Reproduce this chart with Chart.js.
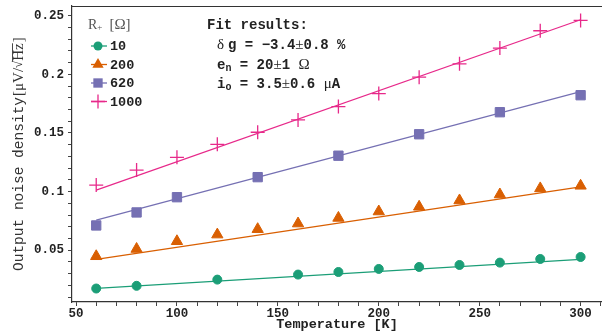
<!DOCTYPE html>
<html>
<head>
<meta charset="utf-8">
<script src="https://cdn.jsdelivr.net/npm/chart.js@4.4.1/dist/chart.umd.min.js"></script>
<style>
  html, body { margin: 0; padding: 0; background: #fff; }
  #wrap { width: 602px; height: 333px; position: relative; }
</style>
</head>
<body>
<div id="wrap"><canvas id="chart"></canvas></div>
<script>
// series data (T in K, noise in uV/sqrt(Hz))
const temps10 = [60, 80, 120, 160, 180, 200, 220, 240, 260, 280, 300];
const noise10 = [0.0173, 0.0196, 0.0249, 0.0292, 0.0314, 0.0340, 0.0357, 0.0374, 0.0394, 0.0425, 0.0442];

const temps200 = [60, 80, 100, 120, 140, 160, 180, 200, 220, 240, 260, 280, 300];
const noise200 = [0.0448, 0.0510, 0.0576, 0.0633, 0.0679, 0.0727, 0.0775, 0.0830, 0.0870, 0.0924, 0.0975, 0.1027, 0.1049];

const temps620 = [60, 80, 100, 140, 180, 220, 260, 300];
const noise620 = [0.0711, 0.0822, 0.0952, 0.1123, 0.1306, 0.1489, 0.1677, 0.1822];

const temps1000 = [60, 80, 100, 120, 140, 160, 180, 200, 220, 240, 260, 280, 300];
const noise1000 = [0.1055, 0.1183, 0.1292, 0.1403, 0.1506, 0.1611, 0.1725, 0.1836, 0.1976, 0.2090, 0.2224, 0.2372, 0.2460];

// fitted lines, end points at T = 60 and 300
const fitT = [60, 300];
const fit10 = [0.0174, 0.0421];
const fit200 = [0.0422, 0.1040];
const fit620 = [0.0756, 0.1853];
const fit1000 = [0.1012, 0.2466];

const seriesNames = ["10", "200", "620", "1000"];
const colors = ["#1b9e77", "#d95f02", "#7570b3", "#e7298a"];

const xTicks = [50, 60, 70, 80, 90, 100, 110, 120, 130, 140, 150, 160, 170, 180, 190, 200, 210, 220, 230, 240, 250, 260, 270, 280, 290, 300, 310];
const yTicks = [];
for (let i = 1; i <= 25; i++) yTicks.push(i / 100);

const MONO = '"Liberation Mono", "Courier New", monospace';
const SERIF = '"Liberation Serif", "DejaVu Serif", serif';

const pts = (xs, ys) => xs.map((x, i) => ({ x: x, y: ys[i] }));

const markerDef = [
  { style: "circle", r: 4.5, w: 1 },
  { style: "triangle", r: 6.5, w: 1 },
  { style: "rect", r: 6.6, w: 1 },
  { style: "cross", r: 7, w: 1.3 }
];

const pointSets = [
  pts(temps10, noise10),
  pts(temps200, noise200),
  pts(temps620, noise620),
  pts(temps1000, noise1000)
];
const fitSets = [fit10, fit200, fit620, fit1000].map(f => pts(fitT, f));

const datasets = [];
fitSets.forEach((d, i) => {
  datasets.push({
    data: d,
    showLine: true,
    borderColor: colors[i],
    borderWidth: 1.2,
    pointRadius: 0,
    order: 2
  });
});
pointSets.forEach((d, i) => {
  datasets.push({
    data: d,
    showLine: false,
    pointStyle: markerDef[i].style,
    pointRadius: markerDef[i].r,
    pointBorderWidth: markerDef[i].w,
    backgroundColor: colors[i],
    borderColor: colors[i],
    order: 1
  });
});

// draw a row of text pieces with different fonts
function drawRuns(ctx, x, y, runs) {
  runs.forEach(r => {
    ctx.font = r.f;
    ctx.fillText(r.t, x, y + (r.dy || 0));
    x += ctx.measureText(r.t).width + (r.gap || 0);
  });
  return x;
}

// legend markers, same shapes as chart.js uses
function drawMarker(ctx, i, x, y) {
  const m = markerDef[i];
  ctx.save();
  ctx.fillStyle = colors[i];
  ctx.strokeStyle = colors[i];
  ctx.lineWidth = m.w;
  ctx.beginPath();
  if (m.style === "circle") {
    ctx.arc(x, y, m.r, 0, Math.PI * 2);
    ctx.fill();
  } else if (m.style === "triangle") {
    const r = m.r;
    ctx.moveTo(x, y - r);
    ctx.lineTo(x + r * 0.866, y + r * 0.5);
    ctx.lineTo(x - r * 0.866, y + r * 0.5);
    ctx.closePath();
    ctx.fill();
  } else if (m.style === "rect") {
    const s = m.r * Math.SQRT1_2;
    ctx.rect(x - s, y - s, s * 2, s * 2);
    ctx.fill();
  } else {
    ctx.moveTo(x - m.r, y);
    ctx.lineTo(x + m.r, y);
    ctx.moveTo(x, y - m.r);
    ctx.lineTo(x, y + m.r);
    ctx.stroke();
  }
  ctx.restore();
}

const decorPlugin = {
  id: "decor",
  afterDraw(chart) {
    const ctx = chart.ctx;
    const a = chart.chartArea;
    ctx.save();

    // top frame line
    ctx.strokeStyle = "#333";
    ctx.lineWidth = 1.2;
    ctx.beginPath();
    ctx.moveTo(a.left, a.top + 0.5);
    ctx.lineTo(a.right, a.top + 0.5);
    ctx.stroke();

    ctx.fillStyle = "#222";
    ctx.textBaseline = "middle";

    // x axis title
    ctx.textAlign = "center";
    ctx.font = "bold 13.5px " + MONO;
    ctx.fillText("Temperature [K]", (a.left + a.right) / 2, 325);

    // y axis title (rotated, mixed fonts)
    ctx.textAlign = "left";
    ctx.save();
    ctx.translate(19, 271);
    ctx.rotate(-Math.PI / 2);
    ctx.fillStyle = "#333";
    let x = drawRuns(ctx, 0, 0, [
      { t: "Output noise density", f: "14.5px " + MONO, gap: 1 },
      { t: "[\u03bcV/", f: "15px " + SERIF },
      { t: "\u221a", f: "13px " + SERIF }
    ]);
    ctx.font = "15px " + SERIF;
    const hzW = ctx.measureText("Hz").width;
    ctx.fillText("Hz", x, 0);
    ctx.lineWidth = 0.9;
    ctx.strokeStyle = "#333";
    ctx.beginPath();
    ctx.moveTo(x - 1, -6.5);
    ctx.lineTo(x + hzW, -6.5);
    ctx.stroke();
    ctx.fillText("]", x + hzW + 1, 0);
    ctx.restore();

    // legend
    ctx.fillStyle = "#555";
    drawRuns(ctx, 88, 25, [
      { t: "R", f: "14px " + SERIF },
      { t: "+", f: "9px " + SERIF, dy: 3, gap: 7 },
      { t: "[\u03a9]", f: "15px " + SERIF }
    ]);
    const rows = [46, 64.5, 83, 101.5];
    rows.forEach((y, i) => {
      ctx.strokeStyle = colors[i];
      ctx.lineWidth = 1.3;
      ctx.beginPath();
      ctx.moveTo(91, y);
      ctx.lineTo(107, y);
      ctx.stroke();
      drawMarker(ctx, i, 98, y);
      ctx.fillStyle = "#222";
      ctx.font = "bold 13.5px " + MONO;
      ctx.fillText(seriesNames[i], 110, y + 1);
    });

    // fit results text
    const B = "bold 14px " + MONO;
    const S = "15px " + SERIF;
    const SUB = "bold 10px " + MONO;
    ctx.fillStyle = "#222";
    ctx.font = B;
    ctx.fillText("Fit results:", 207, 25);
    drawRuns(ctx, 217, 45.5, [
      { t: "\u03b4", f: S, gap: 4 },
      { t: "g = \u22123.4", f: B },
      { t: "\u00b1", f: S },
      { t: "0.8 %", f: B }
    ]);
    drawRuns(ctx, 217, 65, [
      { t: "e", f: B },
      { t: "n", f: SUB, dy: 3 },
      { t: " = 20", f: B },
      { t: "\u00b1", f: S },
      { t: "1 ", f: B },
      { t: "\u03a9", f: S }
    ]);
    drawRuns(ctx, 217, 84.5, [
      { t: "i", f: B },
      { t: "o", f: SUB, dy: 3 },
      { t: " = 3.5", f: B },
      { t: "\u00b1", f: S },
      { t: "0.6 ", f: B },
      { t: "\u03bc", f: S },
      { t: "A", f: B }
    ]);

    ctx.restore();
  }
};

const tickFont = { family: MONO, size: 12.5, weight: "bold" };

new Chart(document.getElementById("chart"), {
  type: "scatter",
  data: { datasets: datasets },
  options: {
    responsive: true,
    maintainAspectRatio: false,
    animation: false,
    devicePixelRatio: 1,
    layout: { autoPadding: false, padding: { top: 6, left: 0, right: 0, bottom: 0 } },
    plugins: {
      legend: { display: false },
      tooltip: { enabled: false }
    },
    scales: {
      x: {
        type: "linear",
        min: 48,
        max: 310.6,
        afterFit: s => {
          s.height = 31;
          s.paddingLeft = 0;
          s.paddingRight = 0;
        },
        afterBuildTicks: s => { s.ticks = xTicks.map(v => ({ value: v })); },
        ticks: {
          autoSkip: false,
          maxRotation: 0,
          padding: 0,
          color: "#222",
          font: tickFont,
          callback: v => (v % 50 === 0 ? String(v) : "")
        },
        grid: { drawOnChartArea: false, drawTicks: true, tickLength: 4, color: "#444" },
        border: { color: "#333", width: 1.2 }
      },
      y: {
        type: "linear",
        min: 0.0058,
        max: 0.2583,
        afterFit: s => {
          s.width = 72;
          s.paddingTop = 0;
          s.paddingBottom = 0;
        },
        afterBuildTicks: s => { s.ticks = yTicks.map(v => ({ value: v })); },
        ticks: {
          autoSkip: false,
          padding: 4,
          color: "#222",
          font: tickFont,
          callback: v => {
            const k = Math.round(v * 100);
            return k % 5 === 0 ? String(k / 100) : "";
          }
        },
        grid: { drawOnChartArea: false, drawTicks: true, tickLength: 4, color: "#444" },
        border: { color: "#333", width: 1.2 }
      }
    }
  },
  plugins: [decorPlugin]
});
</script>
</body>
</html>
